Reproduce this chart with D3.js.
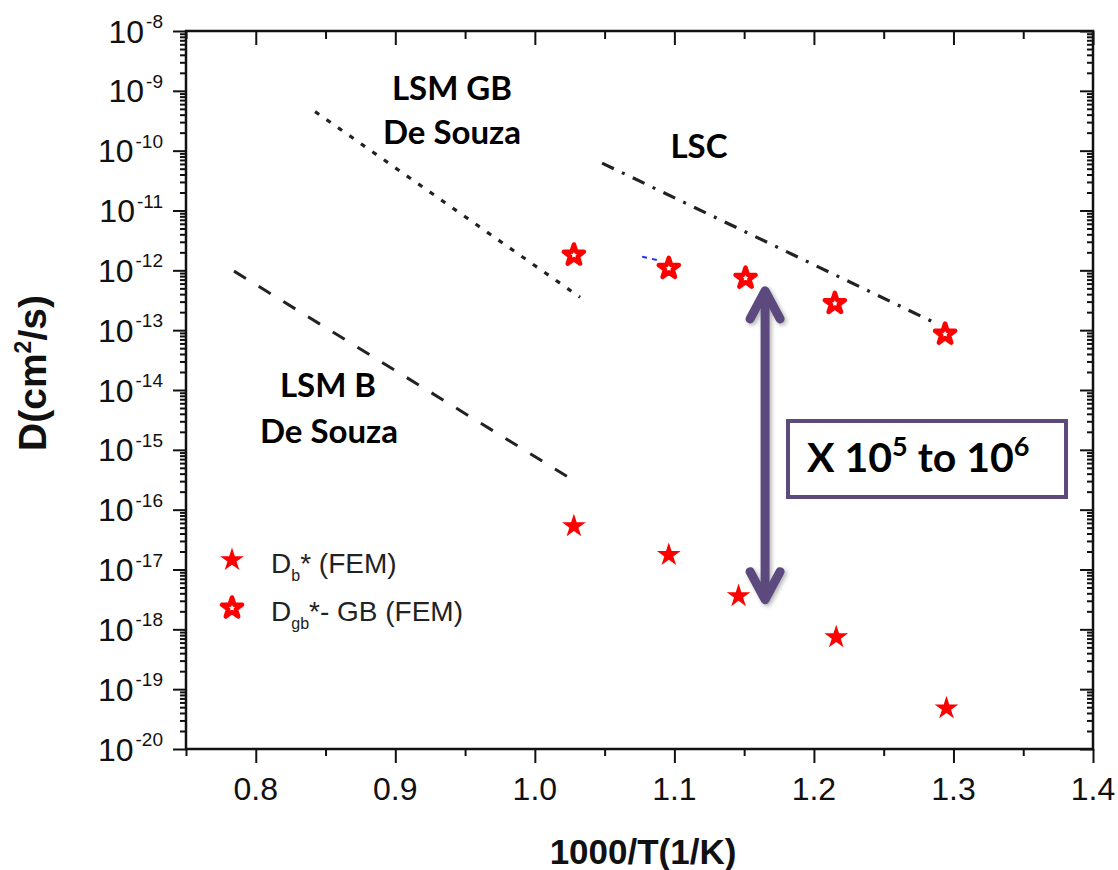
<!DOCTYPE html>
<html>
<head>
<meta charset="utf-8">
<script src="https://cdn.jsdelivr.net/npm/d3@7"></script>
<style>
  body { margin: 0; background: #fff; }
  svg { display: block; }
</style>
</head>
<body>
<div id="chart"></div>
<script>
// Data
var bulkX = [1.028, 1.096, 1.146, 1.216, 1.295];
var bulkD = [5.3e-17, 1.75e-17, 3.6e-18, 7.4e-19, 4.8e-20];
var gbX = [1.028, 1.096, 1.151, 1.215, 1.294];
var gbD = [1.8e-12, 1.08e-12, 7.4e-13, 2.8e-13, 8.6e-14];
var lsmGbX = [0.8425, 1.0324];
var lsmGbD = [4.5e-10, 3.55e-13];
var lsmBX = [0.7844, 1.0296];
var lsmBD = [9.7e-13, 2.9e-16];
var lscX = [1.0482, 1.2869];
var lscD = [6.2e-11, 1.32e-13];
var blueX = [1.0769, 1.0898];
var blueD = [1.69e-12, 1.45e-12];
var xTicks = [0.8, 0.9, 1.0, 1.1, 1.2, 1.3, 1.4];
var yExps = [-8, -9, -10, -11, -12, -13, -14, -15, -16, -17, -18, -19, -20];
var arrowX = 1.165;
var arrowD = [4.9e-13, 2.9e-18];

var width = 1118, height = 870;
// plot box (window.top is reserved, so prefix the names)
var plotLeft = 186, plotRight = 1093, plotTop = 31, plotBottom = 749;

var svg = d3.select('#chart')
            .append('svg')
            .attr('width', width)
            .attr('height', height);

var x = d3.scaleLinear().domain([0.75, 1.4]).range([plotLeft, plotRight]);
var y = d3.scaleLog().domain([1e-20, 1e-8]).range([plotBottom, plotTop]);

var tickFont = '"Liberation Sans", Arial, sans-serif';
var noteFont = 'Lato, "Open Sans", sans-serif';

// minor tick values
var xMinor = d3.range(0.75, 1.41, 0.05).filter(function (v) {
  return Math.abs(v * 10 - Math.round(v * 10)) > 0.01;
});
var yMinor = [];
yExps.slice(1).forEach(function (e) {
  for (var k = 2; k <= 9; k++) yMinor.push(k * Math.pow(10, e));
});
var yMajor = yExps.map(function (e) { return Math.pow(10, e); });

function styleAxis(g) {
  g.select('.domain').remove();
  g.selectAll('.tick line').attr('stroke', '#111').attr('stroke-width', 2);
  g.selectAll('.tick text').remove();
}

// bottom axis (outward) and top axis (inward)
svg.append('g').attr('transform', 'translate(0,' + plotBottom + ')')
   .call(d3.axisBottom(x).tickValues(xTicks).tickSize(14)).call(styleAxis);
svg.append('g').attr('transform', 'translate(0,' + plotBottom + ')')
   .call(d3.axisBottom(x).tickValues(xMinor).tickSize(7)).call(styleAxis);
svg.append('g').attr('transform', 'translate(0,' + plotTop + ')')
   .call(d3.axisBottom(x).tickValues(xTicks).tickSize(14)).call(styleAxis);
svg.append('g').attr('transform', 'translate(0,' + plotTop + ')')
   .call(d3.axisBottom(x).tickValues(xMinor).tickSize(8)).call(styleAxis);

// left axis (outward) and right axis (inward)
svg.append('g').attr('transform', 'translate(' + plotLeft + ',0)')
   .call(d3.axisLeft(y).tickValues(yMajor).tickSize(13)).call(styleAxis);
svg.append('g').attr('transform', 'translate(' + plotLeft + ',0)')
   .call(d3.axisLeft(y).tickValues(yMinor).tickSize(6)).call(styleAxis);
svg.append('g').attr('transform', 'translate(' + plotRight + ',0)')
   .call(d3.axisLeft(y).tickValues(yMajor).tickSize(13)).call(styleAxis);
svg.append('g').attr('transform', 'translate(' + plotRight + ',0)')
   .call(d3.axisLeft(y).tickValues(yMinor).tickSize(6)).call(styleAxis);

// frame
svg.append('rect')
   .attr('x', plotLeft).attr('y', plotTop)
   .attr('width', plotRight - plotLeft).attr('height', plotBottom - plotTop)
   .attr('fill', 'none').attr('stroke', '#111').attr('stroke-width', 2.5);

// x tick labels
svg.append('g').selectAll('text')
   .data(xTicks).enter().append('text')
   .attr('x', function (d) { return x(d); })
   .attr('y', 800)
   .attr('text-anchor', 'middle')
   .attr('font-family', tickFont)
   .attr('font-size', 32)
   .attr('fill', '#111')
   .text(function (d) { return d.toFixed(1); });

// y tick labels: 10 with superscript exponent
var yl = svg.append('g').selectAll('text')
   .data(yExps).enter().append('text')
   .attr('x', 163)
   .attr('y', function (d) { return y(Math.pow(10, d)) + 11.5; })
   .attr('text-anchor', 'end')
   .attr('font-family', tickFont)
   .attr('fill', '#111');
yl.append('tspan').attr('font-size', 32).text('10');
yl.append('tspan').attr('font-size', 19).attr('dx', 2).attr('dy', -14.5)
  .text(function (d) { return '-' + Math.abs(d); });

// axis titles
svg.append('text')
   .attr('transform', 'translate(46,' + 373 + ') rotate(-90)')
   .attr('text-anchor', 'middle')
   .attr('font-family', tickFont)
   .attr('font-weight', 'bold')
   .attr('font-size', 39)
   .attr('fill', '#111')
   .call(function (t) {
     t.append('tspan').text('D(cm');
     t.append('tspan').attr('font-size', 23).attr('dy', -15).text('2');
     t.append('tspan').attr('dy', 15).text('/s)');
   });

svg.append('text')
   .attr('x', 643).attr('y', 864)
   .attr('text-anchor', 'middle')
   .attr('font-family', tickFont)
   .attr('font-weight', 'bold')
   .attr('font-size', 35)
   .attr('fill', '#111')
   .text('1000/T(1/K)');

// literature lines
var line = d3.line()
             .x(function (d) { return x(d[0]); })
             .y(function (d) { return y(d[1]); });

function drawLine(xs, ds, color, dash, w) {
  svg.append('path')
     .datum(d3.zip(xs, ds))
     .attr('d', line)
     .attr('fill', 'none')
     .attr('stroke', color)
     .attr('stroke-width', w)
     .attr('stroke-dasharray', dash);
}
drawLine(lsmGbX, lsmGbD, '#222', '5,9', 3.2);
drawLine(lsmBX, lsmBD, '#222', '14,15', 3);
drawLine(lscX, lscD, '#222', '13,9,3,9', 3.2);
drawLine(blueX, blueD, '#2233ee', '5,5', 2);

// markers
var starFilled = d3.symbol().type(d3.symbolStar).size(175);
var starOpen = d3.symbol().type(d3.symbolStar).size(125);

svg.append('g').selectAll('path')
   .data(d3.zip(bulkX, bulkD)).enter().append('path')
   .attr('transform', function (d) { return 'translate(' + x(d[0]) + ',' + y(d[1]) + ')'; })
   .attr('d', starFilled)
   .attr('fill', '#ff0000');

svg.append('g').selectAll('path')
   .data(d3.zip(gbX, gbD)).enter().append('path')
   .attr('transform', function (d) { return 'translate(' + x(d[0]) + ',' + y(d[1]) + ')'; })
   .attr('d', starOpen)
   .attr('fill', '#fff')
   .attr('stroke', '#ff0000')
   .attr('stroke-width', 4.5)
   .attr('stroke-linejoin', 'round');

// legend
var legend = svg.append('g').attr('font-family', tickFont).attr('fill', '#222');
legend.append('path').attr('transform', 'translate(232,560)')
      .attr('d', starFilled).attr('fill', '#ff0000');
legend.append('path').attr('transform', 'translate(232,608)')
      .attr('d', starOpen).attr('fill', '#fff')
      .attr('stroke', '#ff0000').attr('stroke-width', 4.5)
      .attr('stroke-linejoin', 'round');
var l1 = legend.append('text').attr('x', 271).attr('y', 573).attr('font-size', 28);
l1.append('tspan').text('D');
l1.append('tspan').attr('font-size', 16).attr('dy', 8).text('b');
l1.append('tspan').attr('dy', -8).text('* (FEM)');
var l2 = legend.append('text').attr('x', 271).attr('y', 621).attr('font-size', 28);
l2.append('tspan').text('D');
l2.append('tspan').attr('font-size', 16).attr('dy', 8).text('gb');
l2.append('tspan').attr('dy', -8).text('*- GB (FEM)');

// annotations
var notes = [
  { t: 'LSM GB', x: 452, y: 100 },
  { t: 'De Souza', x: 452, y: 144 },
  { t: 'LSC', x: 699, y: 158 },
  { t: 'LSM B', x: 328, y: 397 },
  { t: 'De Souza', x: 329, y: 443 }
];
svg.append('g').selectAll('text')
   .data(notes).enter().append('text')
   .attr('x', function (d) { return d.x; })
   .attr('y', function (d) { return d.y; })
   .attr('text-anchor', 'middle')
   .attr('font-family', noteFont)
   .attr('font-weight', 'bold')
   .attr('font-size', 33)
   .attr('fill', '#000')
   .text(function (d) { return d.t; });

// double arrow
var defs = svg.append('defs');
var f = defs.append('filter').attr('id', 'shadow')
            .attr('x', '-50%').attr('y', '-10%').attr('width', '200%').attr('height', '120%');
f.append('feDropShadow').attr('dx', 2).attr('dy', 2).attr('stdDeviation', 2)
 .attr('flood-color', '#000').attr('flood-opacity', 0.3);

var ax = x(arrowX), ay1 = y(arrowD[0]), ay2 = y(arrowD[1]);
var arrow = svg.append('g')
   .attr('fill', 'none')
   .attr('stroke', '#5c4a7d')
   .attr('stroke-width', 9)
   .attr('stroke-linecap', 'round')
   .attr('stroke-linejoin', 'round')
   .attr('filter', 'url(#shadow)');
arrow.append('path').attr('d', 'M' + ax + ',' + (ay1 + 4) + 'V' + (ay2 - 4));
arrow.append('path').attr('d', 'M' + (ax - 15) + ',' + (ay1 + 30) + 'L' + ax + ',' + (ay1 + 2) + 'L' + (ax + 15) + ',' + (ay1 + 30));
arrow.append('path').attr('d', 'M' + (ax - 15) + ',' + (ay2 - 30) + 'L' + ax + ',' + (ay2 - 2) + 'L' + (ax + 15) + ',' + (ay2 - 30));

// factor box
svg.append('rect')
   .attr('x', 788).attr('y', 421).attr('width', 278).attr('height', 76)
   .attr('fill', '#fff').attr('stroke', '#5c4a7d').attr('stroke-width', 4);
var bt = svg.append('text')
   .attr('x', 807).attr('y', 472)
   .attr('font-family', noteFont)
   .attr('font-weight', 'bold')
   .attr('font-size', 41)
   .attr('fill', '#000');
bt.append('tspan').text('X 10');
bt.append('tspan').attr('font-size', 27).attr('dy', -16).text('5');
bt.append('tspan').attr('dy', 16).text(' to 10');
bt.append('tspan').attr('font-size', 27).attr('dy', -16).text('6');
</script>
</body>
</html>
